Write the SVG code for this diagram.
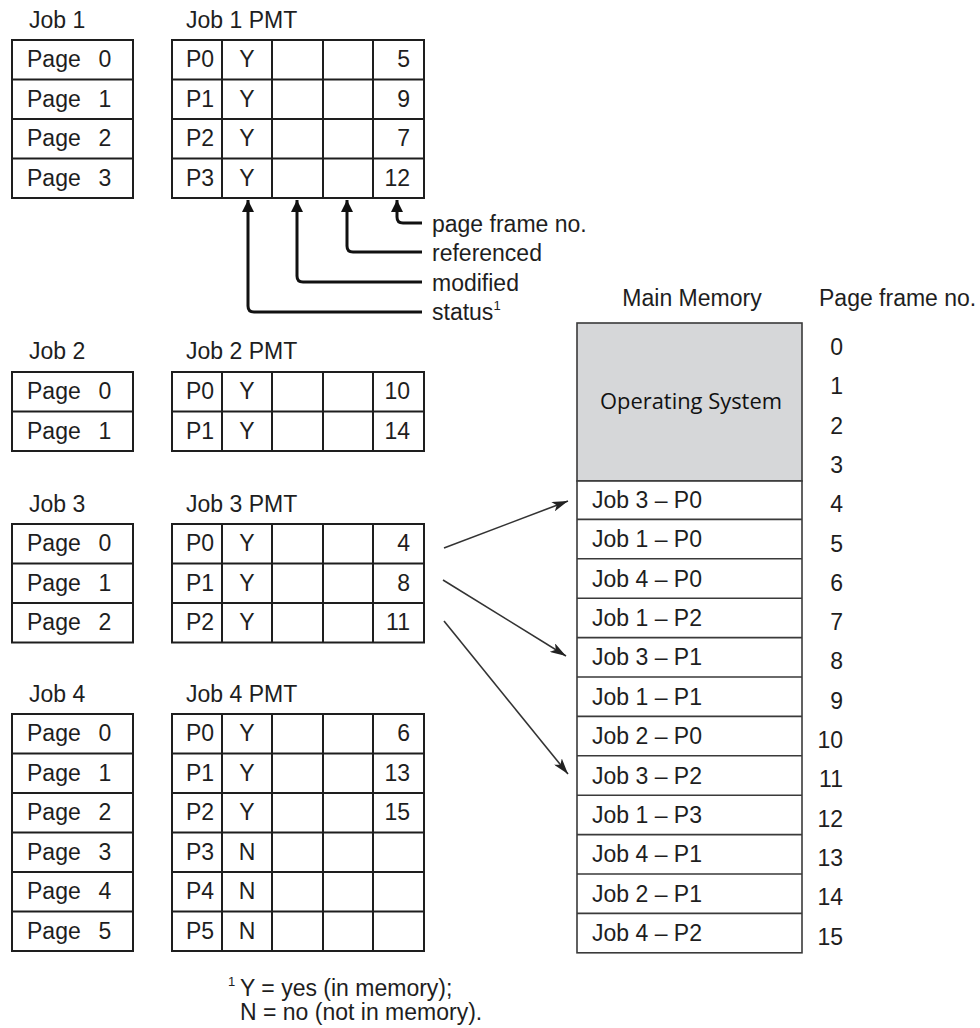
<svg xmlns="http://www.w3.org/2000/svg" width="980" height="1028" viewBox="0 0 980 1028">
<defs>
<style>
text{font-family:"Liberation Sans",Arial,sans-serif;font-size:23px;fill:#1e1e1e}
.m{text-anchor:middle}
.e{text-anchor:end}
.tb{fill:#fff;stroke:#1e1e1e;stroke-width:2}
.ln{fill:none;stroke:#1e1e1e;stroke-width:2}
.mem{fill:#fff;stroke:#3a3a3a;stroke-width:1.6}
.os{fill:#d6d7d9;stroke:#3a3a3a;stroke-width:1.6}
.ann{fill:none;stroke:#111;stroke-width:3;stroke-linejoin:round}
.arr{fill:none;stroke:#333;stroke-width:1.6}
.osl{font-family:"Open Sans","Noto Sans",sans-serif;font-size:21px;fill:#111}
.sup{font-size:13px}
</style>
<marker id="up" viewBox="0 0 10 10" refX="10" refY="5" markerWidth="4" markerHeight="4" orient="auto-start-reverse" markerUnits="strokeWidth">
<path d="M0,0 L10,5 L0,10 z" fill="#111"/>
</marker>
<marker id="ah" viewBox="0 0 16 10" refX="16" refY="5" markerWidth="10" markerHeight="6.25" orient="auto" markerUnits="strokeWidth">
<path d="M0,0 L16,5 L0,10 L4,5 z" fill="#222"/>
</marker>
</defs>
<rect width="980" height="1028" fill="#fff"/>

<!-- Job 1 -->
<g id="job1">
<text x="29" y="28">Job 1</text>
<rect class="tb" x="12" y="40" width="121" height="158"/>
<path class="ln" d="M12,79.5H133M12,119H133M12,158.5H133"/>
<text x="27" y="67">Page</text><text class="m" x="105" y="67">0</text>
<text x="27" y="106.5">Page</text><text class="m" x="105" y="106.5">1</text>
<text x="27" y="146">Page</text><text class="m" x="105" y="146">2</text>
<text x="27" y="185.5">Page</text><text class="m" x="105" y="185.5">3</text>
</g>
<g id="job1-pmt">
<text x="186" y="28">Job 1 PMT</text>
<rect class="tb" x="172" y="40" width="252" height="158"/>
<path class="ln" d="M172,79.5H424M172,119H424M172,158.5H424M222,40V198M272,40V198M323,40V198M373,40V198"/>
<text x="186" y="67">P0</text><text class="m" x="247" y="67">Y</text><text class="e" x="410" y="67">5</text>
<text x="186" y="106.5">P1</text><text class="m" x="247" y="106.5">Y</text><text class="e" x="410" y="106.5">9</text>
<text x="186" y="146">P2</text><text class="m" x="247" y="146">Y</text><text class="e" x="410" y="146">7</text>
<text x="186" y="185.5">P3</text><text class="m" x="247" y="185.5">Y</text><text class="e" x="410" y="185.5">12</text>
</g>

<!-- PMT column legend -->
<g id="legend">
<path class="ann" d="M397,200V217Q397,223 403,223H422" marker-start="url(#up)"/>
<path class="ann" d="M347,200V246Q347,252 353,252H422" marker-start="url(#up)"/>
<path class="ann" d="M297,200V276Q297,282 303,282H422" marker-start="url(#up)"/>
<path class="ann" d="M248,200V306Q248,312 254,312H422" marker-start="url(#up)"/>
<text x="432" y="232">page frame no.</text>
<text x="432" y="261">referenced</text>
<text x="432" y="291">modified</text>
<text x="432" y="320">status<tspan class="sup" dy="-10">1</tspan></text>
</g>

<!-- Job 2 -->
<g id="job2">
<text x="29" y="359">Job 2</text>
<rect class="tb" x="12" y="372" width="121" height="79"/>
<path class="ln" d="M12,411.5H133"/>
<text x="27" y="399">Page</text><text class="m" x="105" y="399">0</text>
<text x="27" y="438.5">Page</text><text class="m" x="105" y="438.5">1</text>
</g>
<g id="job2-pmt">
<text x="186" y="359">Job 2 PMT</text>
<rect class="tb" x="172" y="372" width="252" height="79"/>
<path class="ln" d="M172,411.5H424M222,372V451M272,372V451M323,372V451M373,372V451"/>
<text x="186" y="399">P0</text><text class="m" x="247" y="399">Y</text><text class="e" x="410" y="399">10</text>
<text x="186" y="438.5">P1</text><text class="m" x="247" y="438.5">Y</text><text class="e" x="410" y="438.5">14</text>
</g>

<!-- Job 3 -->
<g id="job3">
<text x="29" y="512">Job 3</text>
<rect class="tb" x="12" y="524" width="121" height="118.5"/>
<path class="ln" d="M12,563.5H133M12,603H133"/>
<text x="27" y="551">Page</text><text class="m" x="105" y="551">0</text>
<text x="27" y="590.5">Page</text><text class="m" x="105" y="590.5">1</text>
<text x="27" y="630">Page</text><text class="m" x="105" y="630">2</text>
</g>
<g id="job3-pmt">
<text x="186" y="512">Job 3 PMT</text>
<rect class="tb" x="172" y="524" width="252" height="118.5"/>
<path class="ln" d="M172,563.5H424M172,603H424M222,524V642.5M272,524V642.5M323,524V642.5M373,524V642.5"/>
<text x="186" y="551">P0</text><text class="m" x="247" y="551">Y</text><text class="e" x="410" y="551">4</text>
<text x="186" y="590.5">P1</text><text class="m" x="247" y="590.5">Y</text><text class="e" x="410" y="590.5">8</text>
<text x="186" y="630">P2</text><text class="m" x="247" y="630">Y</text><text class="e" x="410" y="630">11</text>
</g>

<!-- Job 4 -->
<g id="job4">
<text x="29" y="702">Job 4</text>
<rect class="tb" x="12" y="714" width="121" height="237"/>
<path class="ln" d="M12,753.5H133M12,793H133M12,832.5H133M12,872H133M12,911.5H133"/>
<text x="27" y="741">Page</text><text class="m" x="105" y="741">0</text>
<text x="27" y="780.5">Page</text><text class="m" x="105" y="780.5">1</text>
<text x="27" y="820">Page</text><text class="m" x="105" y="820">2</text>
<text x="27" y="859.5">Page</text><text class="m" x="105" y="859.5">3</text>
<text x="27" y="899">Page</text><text class="m" x="105" y="899">4</text>
<text x="27" y="938.5">Page</text><text class="m" x="105" y="938.5">5</text>
</g>
<g id="job4-pmt">
<text x="186" y="702">Job 4 PMT</text>
<rect class="tb" x="172" y="714" width="252" height="237"/>
<path class="ln" d="M172,753.5H424M172,793H424M172,832.5H424M172,872H424M172,911.5H424M222,714V951M272,714V951M323,714V951M373,714V951"/>
<text x="186" y="741">P0</text><text class="m" x="247" y="741">Y</text><text class="e" x="410" y="741">6</text>
<text x="186" y="780.5">P1</text><text class="m" x="247" y="780.5">Y</text><text class="e" x="410" y="780.5">13</text>
<text x="186" y="820">P2</text><text class="m" x="247" y="820">Y</text><text class="e" x="410" y="820">15</text>
<text x="186" y="859.5">P3</text><text class="m" x="247" y="859.5">N</text>
<text x="186" y="899">P4</text><text class="m" x="247" y="899">N</text>
<text x="186" y="938.5">P5</text><text class="m" x="247" y="938.5">N</text>
</g>

<!-- Main memory -->
<g id="main-memory">
<text class="m" x="692" y="306">Main Memory</text>
<rect class="os" x="577" y="323" width="225" height="158"/>
<text class="m osl" x="691" y="409" textLength="182" lengthAdjust="spacingAndGlyphs">Operating System</text>
<rect class="mem" x="577" y="481" width="225" height="471.8"/>
<path class="mem" d="M577,519.4H802M577,558.8H802M577,598.2H802M577,637.6H802M577,677H802M577,716.4H802M577,755.8H802M577,795.2H802M577,834.6H802M577,874H802M577,913.4H802"/>
<text x="592" y="508">Job 3 – P0</text>
<text x="592" y="547">Job 1 – P0</text>
<text x="592" y="586.5">Job 4 – P0</text>
<text x="592" y="626">Job 1 – P2</text>
<text x="592" y="665.3">Job 3 – P1</text>
<text x="592" y="704.7">Job 1 – P1</text>
<text x="592" y="744">Job 2 – P0</text>
<text x="592" y="783.5">Job 3 – P2</text>
<text x="592" y="823">Job 1 – P3</text>
<text x="592" y="862.3">Job 4 – P1</text>
<text x="592" y="901.7">Job 2 – P1</text>
<text x="592" y="941">Job 4 – P2</text>
</g>

<g id="page-frame-numbers">
<text x="819" y="306">Page frame no.</text>
<text class="e" x="843" y="355">0</text>
<text class="e" x="843" y="394.3">1</text>
<text class="e" x="843" y="433.6">2</text>
<text class="e" x="843" y="472.9">3</text>
<text class="e" x="843" y="512.2">4</text>
<text class="e" x="843" y="551.5">5</text>
<text class="e" x="843" y="590.8">6</text>
<text class="e" x="843" y="630.1">7</text>
<text class="e" x="843" y="669.4">8</text>
<text class="e" x="843" y="708.7">9</text>
<text class="e" x="843" y="748">10</text>
<text class="e" x="843" y="787.3">11</text>
<text class="e" x="843" y="826.6">12</text>
<text class="e" x="843" y="865.9">13</text>
<text class="e" x="843" y="905.2">14</text>
<text class="e" x="843" y="944.5">15</text>
</g>

<!-- Connectors -->
<g id="connectors">
<path class="arr" d="M444,548L568,501" marker-end="url(#ah)"/>
<path class="arr" d="M443,580L566,656" marker-end="url(#ah)"/>
<path class="arr" d="M444,621L568,774" marker-end="url(#ah)"/>
</g>

<!-- Footnote -->
<g id="footnote">
<text x="240" y="996"><tspan class="sup" x="228" y="986">1</tspan><tspan x="240" y="996">Y = yes (in memory);</tspan></text>
<text x="240" y="1020">N = no (not in memory).</text>
</g>
</svg>
